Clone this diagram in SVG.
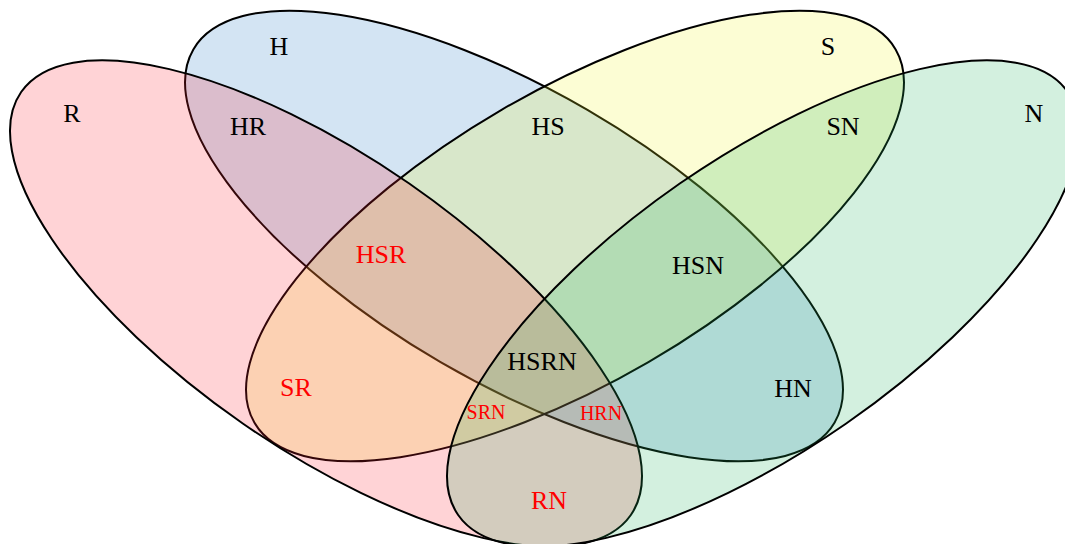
<svg xmlns="http://www.w3.org/2000/svg" width="1065" height="544" viewBox="0 0 1065 544">
<style>
.set{stroke:#000;stroke-width:2;fill-opacity:0.2}
.lbl{font-family:"Liberation Serif","Times New Roman",serif;font-size:26px;text-anchor:middle;fill:#000}
.red{fill:#ff0000}
.sm{font-size:20px}
</style>
<rect width="1065" height="544" fill="#fff"/>
<g id="set-H"><ellipse class="set" cx="514" cy="236" rx="371" ry="146" fill="#2378c3" transform="rotate(30.2 514 236)"/></g>
<g id="set-S"><ellipse class="set" cx="575" cy="236" rx="371" ry="146" fill="#f0f528" transform="rotate(-30.2 575 236)"/></g>
<g id="set-R"><ellipse class="set" cx="326" cy="303.5" rx="371" ry="146" fill="#ff2332" transform="rotate(34.75 326 303.5)"/></g>
<g id="set-N"><ellipse class="set" cx="763" cy="303.5" rx="371" ry="146" fill="#23b45f" transform="rotate(-34.75 763 303.5)"/></g>
<g id="connectors"></g>
<g id="labels">
<text class="lbl" x="72" y="122">R</text>
<text class="lbl" x="279" y="55">H</text>
<text class="lbl" x="828" y="55">S</text>
<text class="lbl" x="1034" y="122">N</text>
<text class="lbl" x="248" y="135">HR</text>
<text class="lbl" x="548" y="135">HS</text>
<text class="lbl" x="843" y="135">SN</text>
<text class="lbl red" x="381" y="263">HSR</text>
<text class="lbl" x="698" y="274">HSN</text>
<text class="lbl" x="542" y="370">HSRN</text>
<text class="lbl red" x="296" y="396">SR</text>
<text class="lbl" x="793" y="397">HN</text>
<text class="lbl red sm" x="486" y="419">SRN</text>
<text class="lbl red sm" x="601" y="420">HRN</text>
<text class="lbl red" x="549" y="509">RN</text>
</g>
</svg>
